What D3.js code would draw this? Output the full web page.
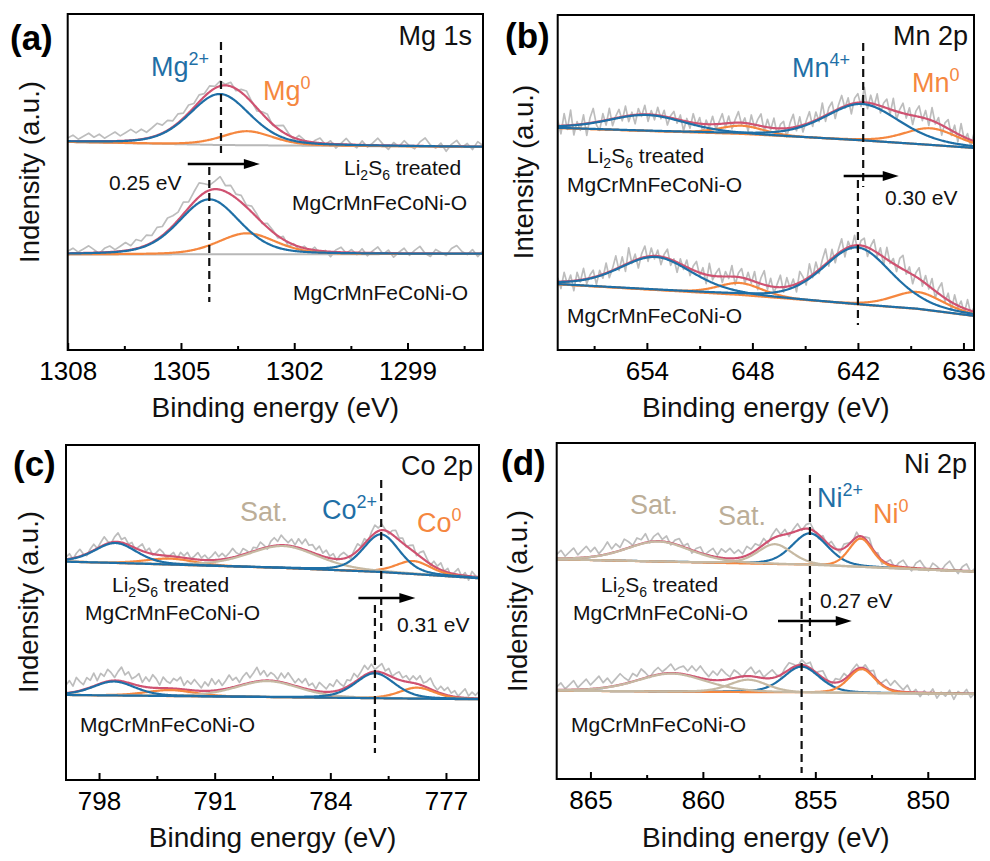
<!DOCTYPE html>
<html><head><meta charset="utf-8">
<script src="https://cdn.jsdelivr.net/npm/d3@7"></script>
<style>
body{margin:0;background:#fff;}
svg{display:block;font-family:"Liberation Sans",Arial,sans-serif;}
</style>
</head><body>
<svg id="chart" width="990" height="861"></svg>
<script>
// ---------------- DATA ----------------
// binding-energy windows and axis ticks
const xDomainA = [1308, 1297], xDomainB = [659.07, 635.4], xDomainC = [800, 775], xDomainD = [866.5, 847.9];
const majorTicksA = [1308, 1305, 1302, 1299], minorTicksA = [1306.5, 1303.5, 1300.5, 1297.5];
const majorTicksB = [654, 648, 642, 636],     minorTicksB = [657, 651, 645, 639];
const majorTicksC = [798, 791, 784, 777],     minorTicksC = [794.5, 787.5, 780.5];
const majorTicksD = [865, 860, 855, 850],     minorTicksD = [862.5, 857.5, 852.5];

// backgrounds [energy, intensity (a.u.)]
const bgATreated  = [[1308, 208], [1304, 205], [1297, 203]];
const bgAPristine = [[1308, 95.5], [1297, 96]];
const bgBTreated  = [[659.07, 222], [654, 219], [648.6, 216], [641.75, 209.5], [637.86, 205], [635.4, 202]];
const bgBPristine = [[659.07, 65.7], [653.5, 60], [648.7, 55], [642.03, 45.5], [638.6, 41], [635.4, 34]];
const bgCTreated  = [[800, 218.3], [797, 217], [786.85, 212], [780.97, 208], [779, 206], [775, 201.7]];
const bgCPristine = [[800, 85], [775, 80.7]];
const bgDTreated  = [[866.5, 219.7], [855.24, 214], [847.9, 207.3]];
const bgDPristine = [[866.5, 88.3], [847.9, 85]];

// fitted peaks [centre (eV), height (a.u.), FWHM (eV)]
const oxATreated = [[1303.97, 51, 1.9]],  metalATreated = [[1303.25, 14, 1.6]];
const oxAPristine = [[1304.25, 55, 1.9]], metalAPristine = [[1303.25, 21, 1.8]];
const oxBTreated = [[654.0, 16, 5.2], [641.75, 36.5, 5.0]], metalBTreated = [[648.6, 8.3, 3.0], [637.86, 16.7, 3.6]];
const oxBPristine = [[653.5, 33, 4.9], [642.03, 57, 4.6]],  metalBPristine = [[648.7, 12, 3.0], [638.6, 17, 3.4]];
const oxCTreated = [[797.0, 20, 3.0], [780.92, 37.7, 2.6]], metalCTreated = [[793.7, 6, 3.5], [778.97, 13, 2.5]], satCTreated = [[786.85, 22, 5.0]];
const oxCPristine = [[797.1, 14, 3.0], [781.3, 25, 2.8]],   metalCPristine = [[793.7, 6, 3.5], [778.75, 11, 2.5]], satCPristine = [[787.8, 16, 4.5]];
const oxDTreated = [[855.24, 31.7, 1.9]], metalDTreated = [[852.98, 28.5, 1.25]], satDTreated = [[861.98, 20, 3.4], [856.8, 20, 1.8]];
const oxDPristine = [[855.61, 26, 1.9]],  metalDPristine = [[852.94, 24, 1.4]],  satDPristine = [[861.4, 18, 3.6], [857.98, 12.5, 2.0]];

// raw-spectrum deviations from the fit envelope, evenly spaced across each window
const noiseATreated = [3,6,2,5,8,4,7,3,6,9,5,8,11,7,10,6,9,12,8,10,6, 9,5,8,4,7,3,6,2,5,1, 4,-2,3,6,1,-3,2,5,-1,3,7,2,-2,4,1,
 -3,2,5,-1,3,-4,1,6,0,-3,4,-2,2,7,1,-4,3,-1,5,0,-3,4,8,1,-2,3,-5,2,6,-1,3,-3,5,1];
const noiseAPristine = [2,5,1,4,7,3,-1,4,6,2,5,8,4,9,6,10,7,12,9,13,10, 8,12,6,10,14,9,5,8,13,6, 9,4,7,2,6,3,-1,4,2,-2,3,-4,1,-3,2,
 -2,3,-3,1,-5,2,5,-1,3,-2,4,-3,2,6,-1,3,-4,1,5,-2,3,7,0,-3,4,1,-2,5,8,2,-1,4,-3,3];
const noiseBTreated = [6,-8,12,-4,15,-10,3,-6,9,-12,5,14,-3,-9,7,-5,11,-7,2,8,
 -4,10,-6,3,-9,6,-2,9,-7,4, -5,8,-3,6,-8,2,7,-4,5,-10, 3,-6,9,-2,6,-9,4,-3,8,-5,
 2,10,-4,7,-6,3,11,-2,5,-8, 9,-3,6,12,-5,8,-2,10,-6,4, 7,-9,5,13,-4,9,-7,3,11,-5,
 8,-3,14,-6,6,10,-8,4,12,-2, 7,-10,5,9,-4,15,-6,8,-3,11, -7,4,9,-5,12,-8,3,10,-4,7,
 -9,5,11,-3,8,-6,13,-2,6,-10, 4,9,-5,7,-8,12,-3,5,-6,8];
const noiseBPristine = [4,-7,9,-3,6,-10,8,-2,11,-5, 3,7,-8,5,-4,10,-6,2,13,-3, 9,-7,15,-2,6,-9,4,11,-5,8,
 -3,6,-8,3,9,-6,2,-10,5,-4, 7,-7,4,10,-3,6,-9,12,-4,3, 8,-6,5,-2,11,-8,4,9,-5,7,
 -3,10,-7,6,14,-4,8,-6,3,12, -5,9,-2,6,-8,11,4,-6,13,-3, 10,-4,7,15,-5,9,-7,4,12,-8,
 6,-3,10,-6,5,8,-9,3,11,-4, 7,-8,12,-2,5,-6,9,14,-3,6, -9,4,11,-5,8,-3,10,-7,5,13, -4,7,-8,9,-2,6,-5,10,-3,4];
const noiseCTreated = [2,5,-1,4,7,1,-2,3,6,0, 4,8,2,-1,5,9,3,6,1,4, -2,3,7,1,5,-1,2,6,3,-3, 1,4,-2,5,2,6,0,3,7,2,
 5,1,4,8,3,6,2,5,9,4, 1,6,3,-1,4,2,7,3,-2,5, 8,4,10,6,3,7,2,9,5,11, 6,8,4,9,3,7,2,5,-1,4,
 6,2,-3,3,7,1,5,-2,4,8, 3,6,1,-2,4,7,2,5,-1,3, 6,-2,4,8,3,-1,5,2,7,0, 4,-3,2,6,-1,3,-4,5,1,-2];
const noiseCPristine = [8,12,6,14,9,5,11,7,13,4, 10,6,12,8,3,9,14,7,11,5, 8,12,4,10,6,13,9,3,11,7, 5,10,8,12,4,9,6,11,7,3,
 9,5,12,6,10,4,8,13,7,9, 3,8,11,5,9,14,6,10,4,8, 6,2,9,5,11,7,3,8,5,10, 4,7,2,9,6,3,8,5,11,6,
 2,7,4,9,3,6,10,4,8,2, 5,9,3,7,1,5,8,3,6,2, 7,4,9,3,6,11,5,2,7,4, 8,3,6,1,5,9,2,6,3,7];
const noiseDTreated = [4,8,2,6,10,3,7,11,5,9, 2,6,12,4,8,3,10,6,1,7, 4,9,-1,5,8,2,6,-2,4,7, 1,5,-3,3,6,-1,4,8,2,9,
 6,10,5,8,3,9,4,7,2,6, -2,4,8,1,5,-3,3,7,-1,4, 6,0,-4,3,-2,5,1,-3,4,2, -1,5,-3,2,6,-2,3,-4,1,5,
 -2,4,7,1,-3,5,8,2,-2,6, 3,-1,5,9,2,-3,4,7,-1,3];
const noiseDPristine = [3,7,1,5,9,2,6,10,4,8, 12,5,9,3,7,11,6,2,8,4, 10,5,-1,4,7,2,5,9,3,6, 8,4,10,6,12,7,3,9,5,11,
 6,2,8,4,-1,5,9,3,7,1, 5,8,2,-2,4,7,3,-1,5,2, 6,-2,3,7,1,-3,4,2,6,-1, 3,5,-2,4,1,6,-3,2,8,4,
 10,6,2,7,-1,3,-4,2,-2,4, -5,1,-3,3,-6,2,-1,4,-4,1];

// peak-position guides [energy, from, to] and shift arrows [from eV, to eV, level]
const guidesA = [[1303.94, 308, 197], [1304.25, 183, 48]];
const guidesB = [[641.7, 307, 163], [642.0, 170, 25]];
const guidesC = [[780.92, 300, 145], [781.3, 175, 27]];
const guidesD = [[855.24, 304, 142], [855.61, 181, 6]];
const arrowA = [1304.82, 1302.91, 186], arrowB = [642.81, 639.68, 174], arrowC = [782.3, 778.85, 182], arrowD = [856.66, 853.38, 158];
const shiftTexts = ["0.25 eV", "0.30 eV", "0.31 eV", "0.27 eV"];
const panelLetters = ["(a)", "(b)", "(c)", "(d)"];
const coreLevels = ["Mg 1s", "Mn 2p", "Co 2p", "Ni 2p"];
const yTitles = ["Indensity (a.u.)", "Intensity (a.u.)", "Indensity (a.u.)", "Indensity (a.u.)"];
const xTitle = "Binding energy (eV)";
const sampleTreated = "MgCrMnFeCoNi-O", samplePristine = "MgCrMnFeCoNi-O";

// ---------------- STYLE / LAYOUT ----------------
const ETA = 0.3; // Lorentzian fraction of pseudo-Voigt line shape
const colors = {ox: "#1f6fa6", metal: "#f5873f", sat: "#c6b9a3", env: "#cf5271", raw: "#bdbdbd", bg: "#b8b8b8"};
const labelColors = {ox: "#1f6fa6", metal: "#f5873f", sat: "#bcae98"};

const panels = [
  {frame: {x0: 67.7, x1: 483, y0: 14, y1: 350}, xdom: xDomainA, major: majorTicksA, minor: minorTicksA,
   spectra: [{bg: bgATreated, ox: oxATreated, metal: metalATreated, sat: [], noise: noiseATreated},
             {bg: bgAPristine, ox: oxAPristine, metal: metalAPristine, sat: [], noise: noiseAPristine}],
   order: ["metal", "ox"], bgLine: true, guides: guidesA, arrow: arrowA,
   letterPos: [10, 50], ytPos: [39, 172], xtY: 417,
   species: [{k: "ox", base: "Mg", sup: "2+", x: 151, y: 76}, {k: "metal", base: "Mg", sup: "0", x: 263, y: 100}],
   core: [472, 45], shiftPos: [109, 190], treated: [[344, 175], [292, 210]], pristine: [293, 300]},
  {frame: {x0: 557.7, x1: 974, y0: 15, y1: 350}, xdom: xDomainB, major: majorTicksB, minor: minorTicksB,
   spectra: [{bg: bgBTreated, ox: oxBTreated, metal: metalBTreated, sat: [], noise: noiseBTreated},
             {bg: bgBPristine, ox: oxBPristine, metal: metalBPristine, sat: [], noise: noiseBPristine}],
   order: ["metal", "ox"], bgLine: false, guides: guidesB, arrow: arrowB,
   letterPos: [505, 48], ytPos: [533, 172], xtY: 417,
   species: [{k: "ox", base: "Mn", sup: "4+", x: 792, y: 77}, {k: "metal", base: "Mn", sup: "0", x: 912, y: 92}],
   core: [968, 45], shiftPos: [885, 205], treated: [[587, 163], [567, 192]], pristine: [567, 323]},
  {frame: {x0: 66, x1: 479, y0: 445, y1: 780}, xdom: xDomainC, major: majorTicksC, minor: minorTicksC,
   spectra: [{bg: bgCTreated, ox: oxCTreated, metal: metalCTreated, sat: satCTreated, noise: noiseCTreated},
             {bg: bgCPristine, ox: oxCPristine, metal: metalCPristine, sat: satCPristine, noise: noiseCPristine}],
   order: ["metal", "sat", "ox"], bgLine: false, guides: guidesC, arrow: arrowC,
   letterPos: [13, 476], ytPos: [38, 602], xtY: 847,
   species: [{k: "sat", base: "Sat.", sup: "", x: 240, y: 521}, {k: "ox", base: "Co", sup: "2+", x: 322, y: 519},
             {k: "metal", base: "Co", sup: "0", x: 417, y: 532}],
   core: [473, 475], shiftPos: [397, 632], treated: [[112, 592], [85, 620]], pristine: [80, 732]},
  {frame: {x0: 556.7, x1: 975, y0: 443, y1: 779}, xdom: xDomainD, major: majorTicksD, minor: minorTicksD,
   spectra: [{bg: bgDTreated, ox: oxDTreated, metal: metalDTreated, sat: satDTreated, noise: noiseDTreated},
             {bg: bgDPristine, ox: oxDPristine, metal: metalDPristine, sat: satDPristine, noise: noiseDPristine}],
   order: ["ox", "metal", "sat"], bgLine: false, guides: guidesD, arrow: arrowD,
   letterPos: [501, 475], ytPos: [527, 601], xtY: 847,
   species: [{k: "sat", base: "Sat.", sup: "", x: 630, y: 514}, {k: "sat", base: "Sat.", sup: "", x: 718, y: 525},
             {k: "ox", base: "Ni", sup: "2+", x: 817, y: 507}, {k: "metal", base: "Ni", sup: "0", x: 873, y: 523}],
   core: [967, 473], shiftPos: [820, 608], treated: [[601, 592], [573, 620]], pristine: [571, 732]}
];

// ---------------- DRAW ----------------
const svg = d3.select("#chart");
svg.append("rect").attr("width", 990).attr("height", 861).attr("fill", "#fff");
const defs = svg.append("defs");

function pv(E, p) {
  const d = (E - p[0]) / p[2];
  const d2 = 4 * d * d;
  return p[1] * (ETA / (1 + d2) + (1 - ETA) * Math.exp(-Math.LN2 * d2));
}

function treatedLabel(g, x, y) {
  const t = g.append("text").attr("x", x).attr("y", y).attr("font-size", 21).attr("fill", "#111");
  t.append("tspan").text("Li");
  t.append("tspan").attr("font-size", 14).attr("dy", 5).text("2");
  t.append("tspan").attr("dy", -5).text("S");
  t.append("tspan").attr("font-size", 14).attr("dy", 5).text("6");
  t.append("tspan").attr("dy", -5).text(" treated");
}

panels.forEach((p, pi) => {
  const f = p.frame;
  const x = d3.scaleLinear().domain(p.xdom).range([f.x0, f.x1]);
  const y = d3.scaleLinear().domain([0, f.y1 - f.y0]).range([f.y1, f.y0]);
  const g = svg.append("g");
  const clipId = "clip" + pi;
  defs.append("clipPath").attr("id", clipId).append("rect")
    .attr("x", f.x0).attr("y", f.y0).attr("width", f.x1 - f.x0).attr("height", f.y1 - f.y0);
  const plot = g.append("g").attr("clip-path", `url(#${clipId})`);
  const N = 500;
  const Es = d3.range(N + 1).map(k => p.xdom[0] + (p.xdom[1] - p.xdom[0]) * k / N);
  const line = d3.line().x(d => x(d[0])).y(d => y(d[1]));

  p.spectra.forEach(s => {
    const bgS = d3.scaleLinear().domain(s.bg.map(k => k[0])).range(s.bg.map(k => k[1])).clamp(true);
    const peaks = [...s.ox, ...s.metal, ...s.sat];
    const env = E => bgS(E) + d3.sum(peaks, pk => pv(E, pk));
    const n = s.noise.length;
    const raw = s.noise.map((r, k) => {
      const E = p.xdom[0] + (p.xdom[1] - p.xdom[0]) * k / (n - 1);
      return [E, env(E) + r];
    });
    plot.append("path").datum(raw).attr("d", line).attr("fill", "none")
      .attr("stroke", colors.raw).attr("stroke-width", 1.7).attr("stroke-linejoin", "round");
    if (p.bgLine) plot.append("path").datum(Es.map(E => [E, bgS(E)])).attr("d", line)
      .attr("fill", "none").attr("stroke", colors.bg).attr("stroke-width", 2);
    plot.append("path").datum(Es.map(E => [E, env(E)])).attr("d", line)
      .attr("fill", "none").attr("stroke", colors.env).attr("stroke-width", 2.2);
    p.order.forEach(kind => {
      s[kind].forEach(pk => {
        plot.append("path").datum(Es.map(E => [E, bgS(E) + pv(E, pk)])).attr("d", line)
          .attr("fill", "none").attr("stroke", colors[kind]).attr("stroke-width", 2.2);
      });
    });
  });

  // guide lines
  p.guides.forEach(gd => {
    g.append("line").attr("x1", x(gd[0])).attr("x2", x(gd[0])).attr("y1", y(gd[1])).attr("y2", y(gd[2]))
      .attr("stroke", "#111").attr("stroke-width", 2.2).attr("stroke-dasharray", "8,5");
  });
  // arrow
  const a = p.arrow, ay = y(a[2]), ax0 = x(a[0]), ax1 = x(a[1]);
  g.append("line").attr("x1", ax0).attr("x2", ax1 - 12).attr("y1", ay).attr("y2", ay)
    .attr("stroke", "#000").attr("stroke-width", 2.4);
  g.append("path").attr("d", `M${ax1},${ay} L${ax1 - 16},${ay - 5} L${ax1 - 16},${ay + 5} Z`).attr("fill", "#000");

  // axes
  const ax = d3.axisBottom(x).tickValues(p.major).tickSizeInner(-7).tickSizeOuter(0).tickPadding(12)
    .tickFormat(d3.format("d"));
  const axg = g.append("g").attr("transform", `translate(0,${f.y1})`).call(ax);
  axg.select(".domain").remove();
  axg.selectAll(".tick line").attr("stroke", "#000").attr("stroke-width", 2);
  axg.selectAll(".tick text").attr("font-size", 26).attr("fill", "#000").attr("font-family", "Liberation Sans, Arial, sans-serif");
  const mx = d3.axisBottom(x).tickValues(p.minor).tickSizeInner(-4).tickSizeOuter(0).tickFormat("");
  const mg = g.append("g").attr("transform", `translate(0,${f.y1})`).call(mx);
  mg.select(".domain").remove();
  mg.selectAll(".tick line").attr("stroke", "#000").attr("stroke-width", 2);

  g.append("rect").attr("x", f.x0).attr("y", f.y0).attr("width", f.x1 - f.x0).attr("height", f.y1 - f.y0)
    .attr("fill", "none").attr("stroke", "#000").attr("stroke-width", 2);

  // titles
  g.append("text").attr("x", (f.x0 + f.x1) / 2).attr("y", p.xtY).attr("text-anchor", "middle")
    .attr("font-size", 28).attr("fill", "#111").text(xTitle);
  g.append("text").attr("transform", `translate(${p.ytPos[0]},${p.ytPos[1]}) rotate(-90)`).attr("text-anchor", "middle")
    .attr("font-size", 27.5).attr("fill", "#111").text(yTitles[pi]);
  g.append("text").attr("x", p.letterPos[0]).attr("y", p.letterPos[1]).attr("font-size", 35)
    .attr("font-weight", "bold").attr("fill", "#000").text(panelLetters[pi]);
  g.append("text").attr("x", p.core[0]).attr("y", p.core[1]).attr("text-anchor", "end")
    .attr("font-size", 27).attr("fill", "#111").text(coreLevels[pi]);

  // species labels
  p.species.forEach(sp => {
    const t = g.append("text").attr("x", sp.x).attr("y", sp.y).attr("font-size", 27).attr("fill", labelColors[sp.k]);
    t.append("tspan").text(sp.base);
    if (sp.sup) t.append("tspan").attr("font-size", 18).attr("dy", -11).text(sp.sup);
  });

  // sample labels
  g.append("text").attr("x", p.shiftPos[0]).attr("y", p.shiftPos[1]).attr("font-size", 21).attr("fill", "#111").text(shiftTexts[pi]);
  treatedLabel(g, p.treated[0][0], p.treated[0][1]);
  g.append("text").attr("x", p.treated[1][0]).attr("y", p.treated[1][1]).attr("font-size", 21).attr("fill", "#111").text(sampleTreated);
  g.append("text").attr("x", p.pristine[0]).attr("y", p.pristine[1]).attr("font-size", 21).attr("fill", "#111").text(samplePristine);
});
</script>
</body></html>
